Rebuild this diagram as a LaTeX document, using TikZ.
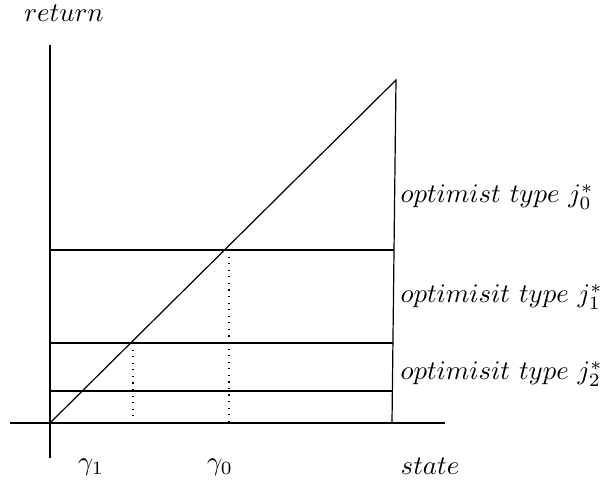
\documentclass[tikz,border=0pt]{standalone}
\begin{document}
\begin{tikzpicture}[x=0.373pt,y=-0.373pt,
  axis/.style={line width=0.45pt},
  ln/.style={line width=0.45pt},
  dot/.style={dotted,line width=0.45pt},
  lbl/.style={inner sep=0pt}]
\useasboundingbox (0,0) rectangle (603,482);
% coordinates
\coordinate (O) at (50,423);
\coordinate (ytop) at (50,45);
\coordinate (ybot) at (50,458);
\coordinate (xl) at (10,423);
\coordinate (xr) at (445,423);
\coordinate (P) at (396,80);
\coordinate (Q) at (392,423);
\coordinate (h0l) at (50,250);
\coordinate (h0r) at (394,250);
\coordinate (h1l) at (50,343);
\coordinate (h1r) at (393,343);
\coordinate (h2l) at (50,391);
\coordinate (h2r) at (393,391);
\coordinate (d0t) at (229,250);
\coordinate (d0b) at (229,423);
\coordinate (d1t) at (133,343);
\coordinate (d1b) at (133,423);
% axes
\draw[axis] (ytop) -- (ybot);
\draw[axis] (xl) -- (xr);
% lines
\draw[ln] (O) -- (P) -- (Q);
\draw[ln] (h0l) -- (h0r);
\draw[ln] (h1l) -- (h1r);
\draw[ln] (h2l) -- (h2r);
\draw[dot] (d0t) -- (d0b);
\draw[dot] (d1t) -- (d1b);
% labels
\node[lbl] (ret) at (64,13) {$return$};
\node[lbl] (st) at (430,466) {$state$};
\node[lbl] (g1) at (91,467) {$\gamma_1$};
\node[lbl] (g0) at (220,467) {$\gamma_0$};
\node[lbl,anchor=west] (t0) at (400,197) {$optimist\ type\ j_0^*$};
\node[lbl,anchor=west] (t1) at (400,297) {$optimisit\ type\ j_1^*$};
\node[lbl,anchor=west] (t2) at (400,374) {$optimisit\ type\ j_2^*$};
\end{tikzpicture}
\end{document}
